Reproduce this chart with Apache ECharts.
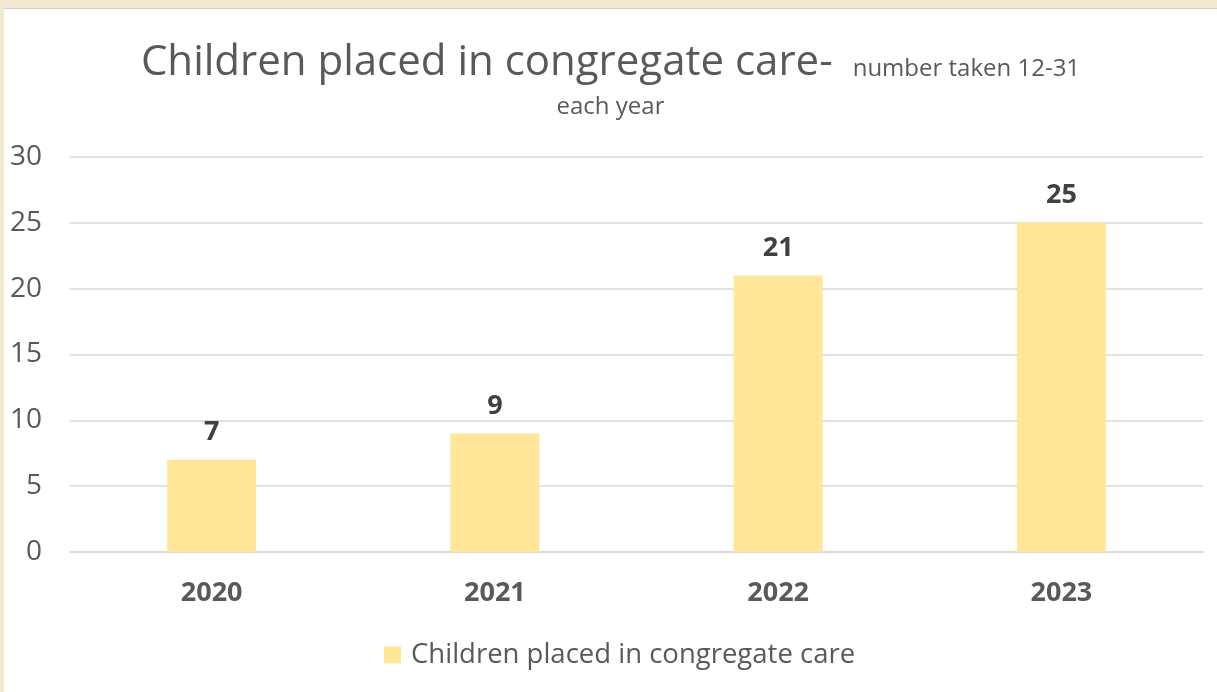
<!DOCTYPE html>
<html>
<head>
<meta charset="utf-8">
<script src="https://cdn.jsdelivr.net/npm/echarts@6/dist/echarts.min.js"></script>
<style>
  html, body { margin: 0; padding: 0; width: 1217px; height: 692px; background: #f1ead0; overflow: hidden; }
  #chart { position: absolute; left: 4px; top: 8px; width: 1213px; height: 684px; background: #ffffff; border-top: 1px solid #d6d3cb; box-sizing: border-box; }
</style>
</head>
<body>
<div id="chart"></div>
<script>
const years = ['2020', '2021', '2022', '2023'];
const placed = [7, 9, 21, 25];
const seriesName = 'Children placed in congregate care';

const chart = echarts.init(document.getElementById('chart'), null, { renderer: 'canvas' });
const FONT = '"Open Sans", sans-serif';

chart.setOption({
  animation: false,
  backgroundColor: '#ffffff',
  textStyle: { fontFamily: FONT },
  title: {
    left: 'center',
    top: 25,
    padding: 0,
    text: '{a|Children placed in congregate care-}{b|number taken 12-31}\n{c|each year}',
    textStyle: {
      fontWeight: 'normal',
      fontSize: 24,
      rich: {
        a: { fontFamily: FONT, fontWeight: 'normal', fontSize: 42, color: '#595959', lineHeight: 50, verticalAlign: 'bottom' },
        b: { fontFamily: FONT, fontWeight: 'normal', fontSize: 24, color: '#595959', lineHeight: 50, verticalAlign: 'bottom', padding: [0, 0, 3, 20] },
        c: { fontFamily: FONT, fontWeight: 'normal', fontSize: 24, color: '#595959', lineHeight: 46 }
      }
    }
  },
  legend: {
    bottom: 18,
    left: 375,
    itemWidth: 17,
    itemHeight: 17,
    itemGap: 10,
    icon: 'rect',
    textStyle: { fontFamily: FONT, fontSize: 27.5, color: '#595959', padding: [0, 0, 0, 5] },
    data: [seriesName]
  },
  grid: { left: 66, right: 14, top: 148, bottom: 140, containLabel: false },
  xAxis: {
    type: 'category',
    data: years,
    axisLine: { lineStyle: { color: '#d9d9d9', width: 1.5 } },
    axisTick: { show: false },
    axisLabel: { fontFamily: FONT, fontSize: 27, fontWeight: 'bold', color: '#595959', margin: 28 }
  },
  yAxis: {
    type: 'value',
    min: 0,
    max: 30,
    interval: 5,
    axisLine: { show: false },
    axisTick: { show: false },
    axisLabel: { fontFamily: FONT, fontSize: 28, color: '#595959', margin: 28 },
    splitLine: { lineStyle: { color: '#d9d9d9', width: 1.5 } }
  },
  series: [{
    name: seriesName,
    type: 'bar',
    data: placed,
    barWidth: 89,
    itemStyle: { color: '#ffe699' },
    label: {
      show: true,
      position: 'top',
      distance: 14,
      fontFamily: FONT,
      fontSize: 27,
      fontWeight: 'bold',
      color: '#404040'
    }
  }]
});
</script>
</body>
</html>
